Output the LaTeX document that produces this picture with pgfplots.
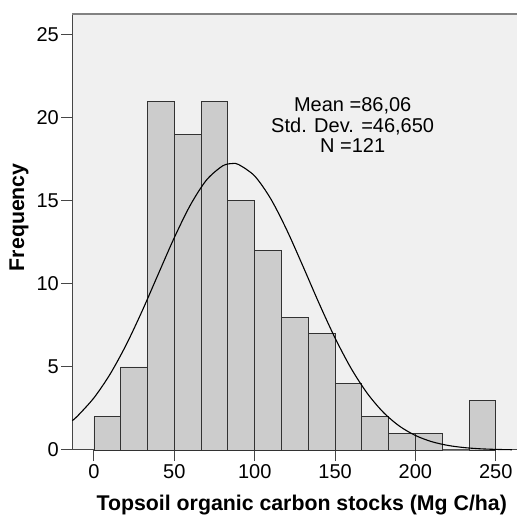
\documentclass[border=0pt]{standalone}
\usepackage{fontspec}
\setmainfont{Liberation Sans}
\usepackage{pgfplots}
\pgfplotsset{compat=1.18}
\definecolor{bgc}{RGB}{240,240,240}
\definecolor{barc}{RGB}{204,204,204}
\definecolor{edgec}{RGB}{50,50,50}
\definecolor{axc}{RGB}{70,70,70}
\definecolor{topc}{RGB}{130,130,130}
\begin{document}
\begin{tikzpicture}
\useasboundingbox (0,0) rectangle (517pt,517pt);
\begin{axis}[
  at={(72.3pt,67pt)}, anchor=south west,
  scale only axis, width=444.7pt, height=436pt,
  xmin=-13.5, xmax=263.2, ymin=0, ymax=26.25,
  axis x line=bottom, axis y line=left,
  axis line style={-, draw=axc, line width=1pt},
  axis background/.style={fill=bgc},
  xtick={0,50,...,250}, ytick={0,5,...,25},
  tick align=outside, major tick length=11pt,
  tick style={draw=axc, line width=1pt},
  ticklabel style={font=\fontsize{20}{20}\selectfont},
  yticklabel style={xshift=1pt},
  /pgf/number format/assume math mode=true,
  clip=false,
]
\addplot[ybar interval, fill=barc, draw=edgec, line width=0.9pt] coordinates {
(0,2) (16.667,5) (33.333,21) (50,19) (66.667,21) (83.333,15) (100,12)
(116.667,8) (133.333,7) (150,4) (166.667,2) (183.333,1) (200,1)
(216.667,0) (233.333,3) (250,3)
};
\addplot[smooth, black, line width=1.1pt, mark=none] coordinates {
(-13.5,1.768) (-10,2.070) (0,3.145) (10,4.565) (20,6.328) (30,8.378)
(40,10.593) (50,12.792) (60,14.754) (70,16.254) (80,17.102) (86.06,17.247)
(90,17.186) (100,16.494) (110,15.119) (120,13.236) (130,11.068)
(140,8.839) (150,6.742) (160,4.911) (170,3.417) (180,2.271) (190,1.441)
(200,0.874) (210,0.506) (220,0.280) (230,0.148) (240,0.0745)
(250,0.0359) (260,0.0165)
};
\draw[topc, line width=1.2pt] (rel axis cs:0,1) -- (rel axis cs:1,1);
\node[anchor=base, font=\fontsize{20}{20}\selectfont] at (rel axis cs:0.6305,0.776) {Mean =86,06};
\node[anchor=base, font=\fontsize{20}{20}\selectfont] at (rel axis cs:0.6305,0.729) {Std. Dev. =46,650};
\node[anchor=base, font=\fontsize{20}{20}\selectfont] at (rel axis cs:0.6305,0.682) {N =121};
\node[anchor=base, font=\bfseries\fontsize{21.3}{21.3}\selectfont] at (rel axis cs:0.516,-0.139) {Topsoil organic carbon stocks (Mg C/ha)};
\node[rotate=90, font=\bfseries\fontsize{21.3}{21.3}\selectfont] at (rel axis cs:-0.120,0.534) {Frequency};
\end{axis}
\end{tikzpicture}
\end{document}
